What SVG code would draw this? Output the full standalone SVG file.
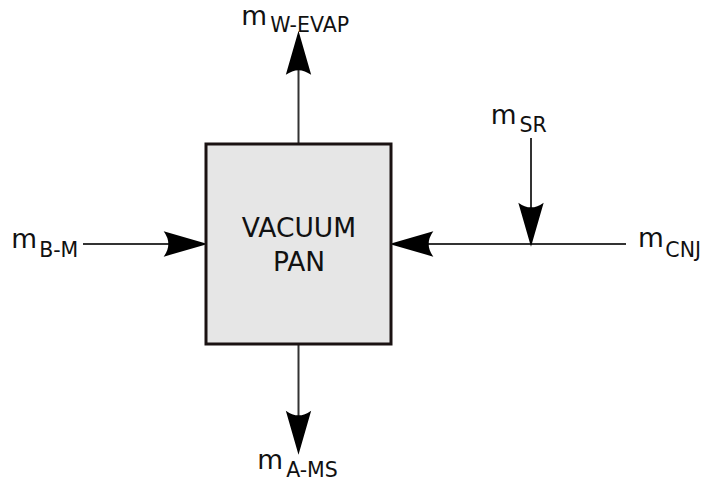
<svg xmlns="http://www.w3.org/2000/svg" width="701" height="481" viewBox="0 0 701 481">
<style>
.flow{stroke:#333;stroke-width:2;fill:none;marker-end:url(#ah)}
.lbl{font-family:"DejaVu Sans",sans-serif;font-size:26.5px;fill:#111}
.sub{font-size:20.5px}
.box{fill:#e6e6e6;stroke:#1a1212;stroke-width:3}
.title{font-family:"DejaVu Sans",sans-serif;font-size:26.5px;fill:#111;text-anchor:middle}
</style>
<defs>
<marker id="ah" markerUnits="userSpaceOnUse" orient="auto" refX="0" refY="0" markerWidth="60" markerHeight="40" viewBox="-30 -15 45 30" overflow="visible">
<path d="M8,0 L-25,-9.5 Q-18,0 -25,9.5 Z" fill="#000"/>
</marker>
</defs>
<rect width="701" height="481" fill="#fff"/>
<g id="connectors">
<line class="flow" x1="298.5" y1="143" x2="298.5" y2="41.5"/>
<line class="flow" x1="298.5" y1="345" x2="298.5" y2="444"/>
<line class="flow" x1="83" y1="244" x2="197" y2="244"/>
<line class="flow" x1="626" y1="244" x2="400" y2="244"/>
<line class="flow" x1="531" y1="138" x2="531" y2="236"/>
</g>
<g id="vacuum-pan">
<rect class="box" x="206" y="144" width="185" height="200"/>
<text class="title" x="299" y="237">VACUUM</text>
<text class="title" x="299" y="271">PAN</text>
</g>
<g id="label-w-evap"><text class="lbl" x="241.3" y="25">m<tspan class="sub" dx="3" dy="6.5">W-EVAP</tspan></text></g>
<g id="label-b-m"><text class="lbl" x="11.3" y="248">m<tspan class="sub" dx="2" dy="9">B-M</tspan></text></g>
<g id="label-sr"><text class="lbl" x="490.7" y="123.5">m<tspan class="sub" dx="3" dy="8.5">SR</tspan></text></g>
<g id="label-cnj"><text class="lbl" x="638" y="247">m<tspan class="sub" dx="1.5" dy="9.5">CNJ</tspan></text></g>
<g id="label-a-ms"><text class="lbl" x="257.3" y="468.5">m<tspan class="sub" dx="3" dy="8.5">A-MS</tspan></text></g>
</svg>
